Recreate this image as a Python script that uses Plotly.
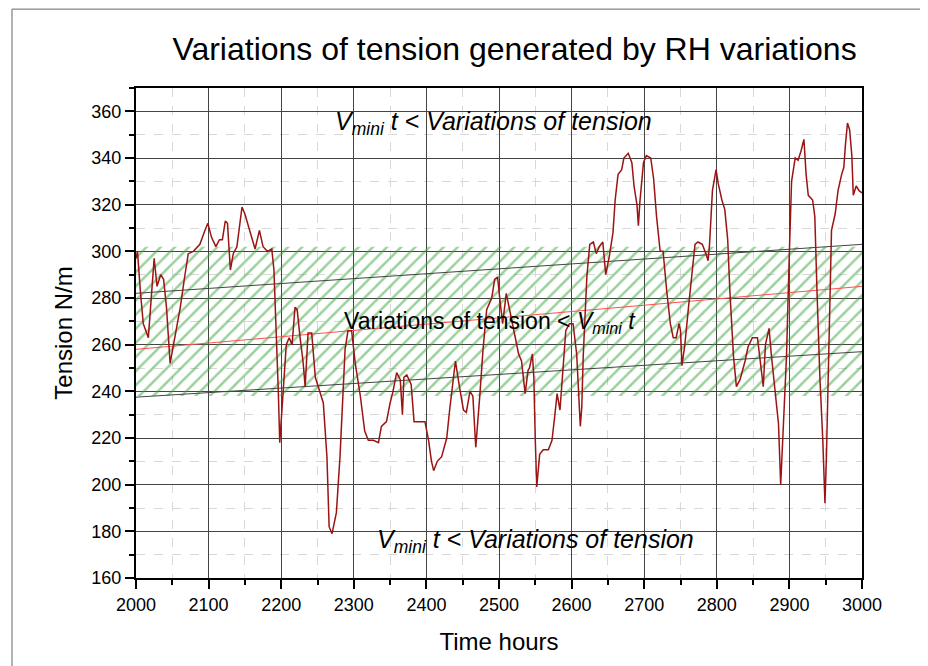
import plotly.graph_objects as go

hours = [2000, 2002, 2006, 2010, 2017, 2020, 2025, 2029, 2034, 2038, 2042, 2047, 2051, 2061, 2067,
         2072, 2079, 2088, 2095, 2099, 2104, 2110, 2115, 2119, 2123, 2126, 2130, 2134, 2139, 2142,
         2146, 2150, 2157, 2164, 2170, 2175, 2181, 2187, 2190, 2194, 2196, 2198, 2203, 2207, 2211,
         2215, 2219, 2222, 2226, 2230, 2233, 2237, 2242, 2247, 2253, 2258, 2263, 2266, 2270, 2276,
         2281, 2285, 2288, 2292, 2297, 2302, 2309, 2315, 2320, 2327, 2334, 2338, 2345, 2350, 2354,
         2359, 2364, 2367, 2369, 2373, 2379, 2383, 2389, 2398, 2403, 2407, 2410, 2415, 2421, 2428,
         2432, 2437, 2440, 2445, 2451, 2455, 2460, 2464, 2468, 2474, 2478, 2483, 2490, 2494, 2498,
         2501, 2505, 2510, 2514, 2520, 2527, 2531, 2536, 2540, 2542, 2546, 2548, 2550, 2552, 2556,
         2561, 2568, 2573, 2577, 2580, 2584, 2589, 2592, 2597, 2602, 2607, 2609, 2612, 2614, 2616,
         2621, 2625, 2630, 2634, 2638, 2643, 2647, 2652, 2657, 2660, 2664, 2669, 2672, 2678, 2683,
         2686, 2690, 2692, 2694, 2699, 2703, 2709, 2713, 2717, 2722, 2726, 2731, 2736, 2740, 2744,
         2748, 2750, 2752, 2756, 2761, 2765, 2770, 2774, 2780, 2785, 2788, 2790, 2794, 2799, 2802,
         2807, 2811, 2815, 2818, 2823, 2827, 2832, 2839, 2843, 2849, 2856, 2859, 2864, 2867, 2872,
         2875, 2880, 2885, 2888, 2892, 2896, 2900, 2903, 2908, 2912, 2916, 2920, 2923, 2926, 2932,
         2935, 2938, 2942, 2946, 2949, 2951, 2955, 2958, 2963, 2967, 2972, 2975, 2977, 2980, 2983,
         2986, 2988, 2992, 2996, 3000]
tension = [297, 300, 283, 269, 263, 276, 297, 285, 290, 288, 276, 252, 259, 276, 289,
           299, 300, 303, 309, 312, 306, 302, 305, 305, 313, 312, 292, 299, 302, 309,
           319, 316, 308, 301, 309, 302, 300, 301, 292, 262, 240, 218, 240, 260, 263,
           260, 276, 275, 263, 253, 242, 265, 265, 246, 240, 235, 212, 182, 179, 188,
           212, 240, 258, 266, 266, 252, 238, 223, 219, 219, 218, 225, 227, 235, 240,
           248, 245, 230, 246, 247, 243, 227, 227, 227, 219, 210, 206, 210, 212, 220,
           232, 245, 253, 243, 232, 231, 240, 238, 216, 240, 258, 275, 280, 288, 289,
           280, 269, 282, 276, 266, 256, 253, 239, 249, 250, 256, 246, 219, 199, 213,
           215, 215, 219, 230, 239, 232, 256, 266, 269, 269, 256, 245, 225, 233, 255,
           289, 303, 304, 299, 302, 304, 290, 298, 308, 322, 333, 335, 340, 342, 338,
           328, 320, 311, 321, 338, 341, 340, 331, 315, 300, 300, 283, 269, 263, 263,
           269, 266, 251, 260, 276, 289, 303, 304, 303, 299, 296, 303, 326, 335, 329,
           322, 318, 305, 283, 255, 242, 245, 253, 259, 263, 263, 255, 242, 260, 267,
           256, 240, 226, 200, 226, 255, 300, 330, 340, 339, 343, 348, 333, 324, 322,
           315, 283, 246, 219, 192, 212, 269, 309, 316, 326, 333, 336, 345, 355, 352,
           341, 324, 328, 326, 325]

# acceptance band and the V_mini*t reference lines
band_x = [2000, 3000]
band_low = [238, 238]
band_high = [302, 302]
line_x = [2000, 3000]
upper_line = [282, 303]
mid_line = [258, 285]
lower_line = [237.5, 257]

FONT = "Liberation Sans, Arial, sans-serif"

fig = go.Figure()
fig.add_trace(go.Scatter(x=band_x, y=band_low, mode='lines', line=dict(width=0), hoverinfo='skip'))
fig.add_trace(go.Scatter(x=band_x, y=band_high, mode='lines', line=dict(width=0), fill='tonexty',
                         fillcolor='rgba(0,0,0,0)',
                         fillpattern=dict(shape='/', fgcolor='#36a336', bgcolor='rgba(0,0,0,0)',
                                          size=10, solidity=0.25)))
fig.add_trace(go.Scatter(x=line_x, y=upper_line, mode='lines', line=dict(color='#444444', width=1)))
fig.add_trace(go.Scatter(x=line_x, y=lower_line, mode='lines', line=dict(color='#444444', width=1)))
fig.add_trace(go.Scatter(x=line_x, y=mid_line, mode='lines', line=dict(color='#ff5050', width=1)))
fig.add_trace(go.Scatter(x=hours, y=tension, mode='lines', line=dict(color='#9b1414', width=1.5)))

fig.update_traces(showlegend=False)

axis_common = dict(
    showline=True, linecolor='black', linewidth=2, mirror=True,
    ticks='outside', ticklen=9, tickwidth=2, tickcolor='black',
    showgrid=True, gridcolor='#444444', gridwidth=1,
    tickfont=dict(family=FONT, size=18, color='black'),
    zeroline=False,
)
fig.update_xaxes(range=[2000, 3000], tick0=2000, dtick=100,
                 minor=dict(dtick=50, ticklen=5, tickcolor='black', showgrid=True,
                            gridcolor='#d8d8d8', griddash='dash'),
                 title=dict(text='Time hours', font=dict(family=FONT, size=24, color='black'), standoff=20),
                 **axis_common)
fig.update_yaxes(range=[160, 370], tick0=160, dtick=20,
                 minor=dict(dtick=10, ticklen=5, tickcolor='black', showgrid=True,
                            gridcolor='#d8d8d8', griddash='dash'),
                 title=dict(text='Tension N/m', font=dict(family=FONT, size=24, color='black'), standoff=12),
                 **axis_common)

# page body adds an 8px offset, so the figure is sized to sit inside the window
fig.update_layout(
    width=920, height=658,
    margin=dict(l=128, r=66, t=80, b=88),
    paper_bgcolor='white', plot_bgcolor='white',
    title=dict(text='Variations of tension generated by RH variations',
               font=dict(family=FONT, size=32, color='black'),
               x=0.5214, xref='paper', xanchor='center', y=0.938, yanchor='middle'),
    annotations=[
        dict(x=2492, y=355, xref='x', yref='y', showarrow=False,
             text='<i>V<sub>mini</sub> t &lt; Variations of tension</i>',
             font=dict(family=FONT, size=25, color='black')),
        dict(x=2487, y=269.5, xref='x', yref='y', showarrow=False,
             text='Variations of tension &lt; <i>V<sub>mini</sub> t</i>',
             font=dict(family=FONT, size=23, color='black')),
        dict(x=2550, y=176, xref='x', yref='y', showarrow=False,
             text='<i>V<sub>mini</sub> t &lt; Variations of tension</i>',
             font=dict(family=FONT, size=25, color='black')),
    ],
    shapes=[dict(type='rect', xref='paper', yref='paper', x0=-0.1708, x1=1.0813, y0=-0.21, y1=1.161,
                 line=dict(color='#666666', width=1))],
)

fig.write_html("out.html")
